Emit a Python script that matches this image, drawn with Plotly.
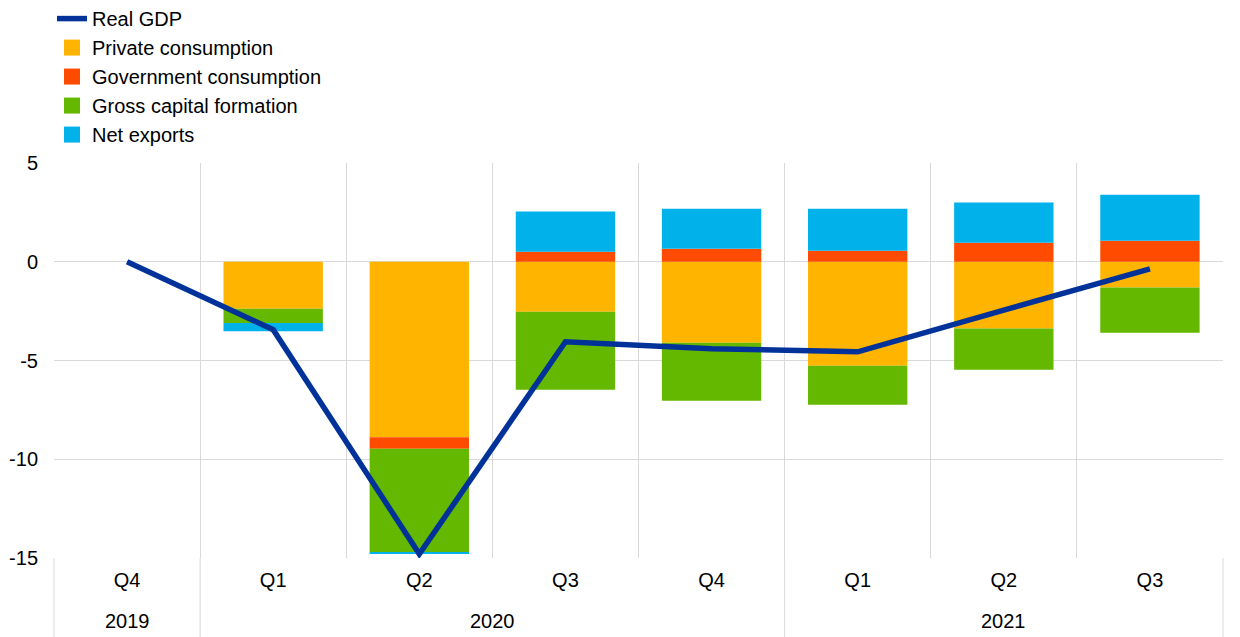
import plotly.graph_objects as go

years = ["2019", "2020", "2020", "2020", "2020", "2021", "2021", "2021"]
quarters = ["Q4", "Q1", "Q2", "Q3", "Q4", "Q1", "Q2", "Q3"]

real_gdp = [0.0, -3.44, -14.80, -4.05, -4.40, -4.56, -2.45, -0.36]
private_consumption = [None, -2.38, -8.88, -2.53, -4.10, -5.27, -3.38, -1.30]
government_consumption = [None, 0.0, -0.59, 0.51, 0.66, 0.56, 0.96, 1.06]
gross_capital_formation = [None, -0.72, -5.23, -3.95, -2.94, -1.97, -2.09, -2.30]
net_exports = [None, -0.42, -0.08, 2.03, 2.02, 2.12, 2.04, 2.33]

y_ticks = [-15, -10, -5, 0, 5]

names = ["Private consumption", "Government consumption", "Gross capital formation", "Net exports"]
series = [private_consumption, government_consumption, gross_capital_formation, net_exports]
colors = ["#FFB400", "#FF4B00", "#65B800", "#00B1EA"]
gdp_color = "#003299"
grid = "#d9d9d9"
font = dict(family="Arial, Liberation Sans, sans-serif", size=20, color="#000000")

idx = list(range(len(quarters)))
x_range = [-0.5, len(quarters) - 0.5]

fig = go.Figure()

fig.add_trace(go.Scatter(
    x=idx, y=real_gdp, mode="lines", name="Real GDP",
    line=dict(color=gdp_color, width=5.5), showlegend=True,
))

# legend entries with larger square symbols
for n, c in zip(names, colors):
    fig.add_trace(go.Scatter(
        x=[None], y=[None], mode="markers", name=n,
        marker=dict(symbol="square", size=17, color=c), showlegend=True,
    ))

for n, s, c in zip(names, series, colors):
    fig.add_trace(go.Bar(
        x=idx, y=s, name=n, marker=dict(color=c, line=dict(width=0)),
        width=0.68, showlegend=False,
    ))

# year group labels and dividers
shapes = []
annotations = []
groups = []
for i, yv in enumerate(years):
    if not groups or groups[-1][0] != yv:
        groups.append([yv, i, i])
    else:
        groups[-1][2] = i

span = x_range[1] - x_range[0]
bounds = [groups[0][1] - 0.5] + [g[2] + 0.5 for g in groups]
for b in bounds:
    xf = (b - x_range[0]) / span
    shapes.append(dict(type="line", xref="x domain", yref="paper",
                       x0=xf, x1=xf, y0=0, y1=-0.21,
                       line=dict(color=grid, width=1)))
for yv, a, b in groups:
    annotations.append(dict(text=yv, x=(a + b) / 2, xref="x", y=-0.16, yref="paper",
                            showarrow=False, yanchor="middle", xanchor="center", font=font))

fig.update_layout(
    barmode="relative",
    width=1240, height=637,
    margin=dict(l=54, r=17, t=163, b=79, autoexpand=False),
    paper_bgcolor="white", plot_bgcolor="white",
    font=font,
    hovermode=False,
    legend=dict(
        x=-0.0017, y=1.415, xanchor="left", yanchor="top",
        bgcolor="rgba(0,0,0,0)", font=font, tracegroupgap=0,
    ),
    shapes=shapes,
    annotations=annotations,
    xaxis=dict(
        range=x_range, tickvals=idx, ticktext=quarters, showgrid=False,
        minor=dict(tick0=0.5, dtick=1, showgrid=True, gridcolor=grid, gridwidth=1, ticks=""),
        ticks="", showline=False, zeroline=False, tickfont=font, ticklabelstandoff=8,
    ),
    yaxis=dict(
        range=[y_ticks[0], y_ticks[-1]], tickvals=y_ticks, ticktext=[str(v) for v in y_ticks],
        showgrid=True, gridcolor=grid, gridwidth=1, zeroline=False,
        ticks="", tickfont=font, showline=False, ticklabelstandoff=15,
    ),
)

fig.write_html(
    "out.html",
    config={"displayModeBar": False},
    post_script="document.body.style.margin='0px';document.body.style.overflow='hidden';",
)
